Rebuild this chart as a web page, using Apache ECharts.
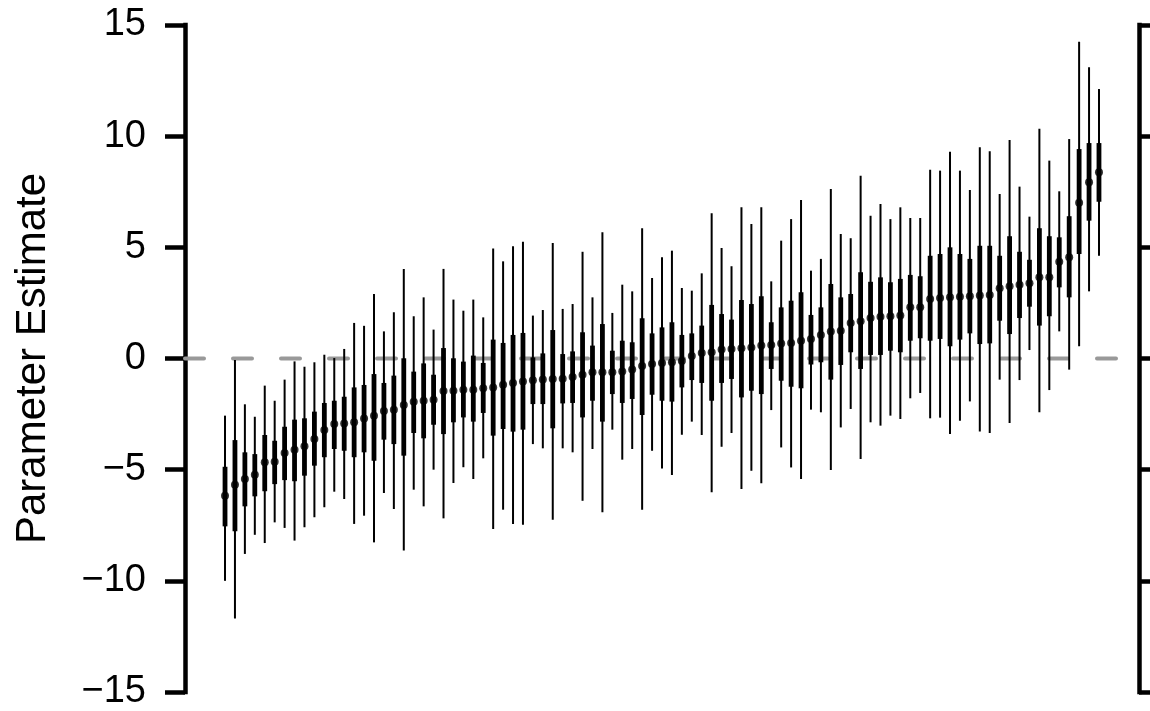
<!DOCTYPE html>
<html><head><meta charset="utf-8">
<script src="https://cdn.jsdelivr.net/npm/echarts@6/dist/echarts.min.js"></script>
<style>html,body{margin:0;padding:0;background:#fff}#c{width:1150px;height:711px}</style>
</head><body><div id="c"></div>
<script>
// Point estimates, sorted ascending
const estimate = [-6.17,-5.68,-5.42,-5.23,-4.67,-4.64,-4.25,-4.1,-3.95,-3.62,
-3.22,-2.95,-2.92,-2.87,-2.7,-2.57,-2.36,-2.3,-2.09,-1.94,
-1.9,-1.85,-1.46,-1.45,-1.4,-1.4,-1.34,-1.3,-1.18,-1.1,
-1.04,-0.98,-0.94,-0.92,-0.91,-0.83,-0.73,-0.62,-0.62,-0.62,
-0.59,-0.5,-0.34,-0.25,-0.2,-0.17,-0.11,0.11,0.25,0.28,
0.41,0.43,0.46,0.5,0.58,0.61,0.67,0.7,0.8,0.88,
1.06,1.21,1.25,1.6,1.67,1.82,1.88,1.9,1.93,2.3,
2.3,2.68,2.72,2.75,2.78,2.8,2.83,2.86,3.16,3.25,
3.32,3.38,3.65,3.65,4.35,4.55,7.0,7.93,8.38];
// Inner (thick) interval
const innerLo = [-7.55,-7.77,-6.65,-6.2,-5.97,-5.65,-5.47,-5.52,-5.27,-4.82,
-4.44,-4.07,-4.15,-4.44,-4.22,-4.6,-3.65,-3.85,-4.37,-3.35,
-3.59,-2.98,-3.4,-2.87,-2.65,-2.84,-2.45,-3.47,-3.17,-3.29,
-3.2,-2.05,-2.05,-3.14,-2.02,-2.0,-2.65,-1.9,-2.84,-1.6,
-2.0,-1.82,-2.54,-1.63,-1.9,-1.94,-1.3,-0.97,-1.1,-1.9,
-1.1,-0.92,-1.75,-1.45,-1.6,-0.47,-1.0,-1.27,-1.34,-0.27,
-0.17,-0.95,-0.29,0.28,-0.47,0.16,0.16,0.35,0.28,0.8,
0.91,0.8,0.88,0.55,0.85,1.13,0.65,0.68,1.7,1.1,
1.82,2.33,1.48,1.9,3.2,2.75,4.7,6.2,7.05];
const innerHi = [-4.87,-3.67,-4.22,-4.3,-3.44,-3.7,-3.07,-2.75,-2.69,-2.39,
-2.0,-1.9,-1.72,-1.3,-1.19,-0.7,-1.1,-0.77,0.01,-0.59,
-0.22,-0.73,0.47,0.01,-0.14,0.13,-0.2,0.85,0.7,1.06,
1.15,0.05,0.23,1.28,0.2,0.32,1.18,0.58,1.55,0.35,
0.8,0.73,1.81,1.13,1.4,1.63,1.06,1.13,1.48,2.41,
2.0,1.75,2.63,2.45,2.8,1.63,2.3,2.6,2.98,1.96,
2.3,3.35,2.75,2.9,3.88,3.45,3.65,3.43,3.58,3.76,
3.7,4.62,4.7,5.0,4.7,4.48,5.07,5.07,4.62,5.5,
4.8,4.44,5.86,5.5,5.45,6.4,9.42,9.69,9.69];
// Outer (thin) interval
const outerLo = [-10.0,-11.69,-8.79,-7.93,-8.3,-7.37,-7.62,-8.19,-7.59,-7.14,
-6.69,-5.99,-6.32,-7.44,-7.07,-8.27,-6.05,-6.77,-8.64,-5.9,
-6.65,-5.0,-7.19,-5.6,-4.89,-5.42,-4.49,-7.67,-6.8,-7.44,
-7.48,-3.85,-4.04,-7.25,-4.04,-4.22,-6.4,-4.07,-6.92,-3.2,
-4.55,-4.07,-6.8,-4.15,-4.95,-5.24,-3.43,-2.84,-3.44,-6.02,
-3.97,-3.35,-5.87,-5.05,-5.61,-2.32,-4.0,-4.9,-5.42,-2.3,
-2.42,-5.02,-3.1,-2.27,-4.52,-2.87,-3.02,-2.57,-2.72,-1.79,
-1.55,-2.69,-2.66,-3.4,-2.8,-1.93,-3.28,-3.35,-0.95,-2.9,
-0.97,0.38,-2.42,-1.42,1.22,-0.5,0.55,3.02,4.62];
const outerHi = [-2.57,-0.07,-2.06,-2.62,-1.22,-1.9,-0.95,-0.13,-0.37,-0.17,
0.17,0.02,0.43,1.6,1.47,2.9,1.22,2.08,4.03,1.9,
2.75,1.3,4.03,2.65,2.15,2.65,1.85,4.95,4.37,5.05,
5.25,1.93,2.18,5.2,2.23,2.45,4.8,2.75,5.68,2.05,
3.32,3.02,5.86,3.62,4.55,4.85,3.17,3.05,3.83,6.53,
4.97,4.15,6.8,6.05,6.8,3.47,5.3,6.27,7.13,3.95,
4.48,7.62,5.6,5.41,8.22,6.42,6.95,6.27,6.8,6.32,
6.32,8.49,8.45,9.3,8.45,7.58,9.5,9.32,7.4,9.83,
7.73,6.38,10.33,8.9,7.52,9.87,14.25,13.1,12.12];
const yTicks = [-15, -10, -5, 0, 5, 10, 15];
const refLine = 0;

const FONT = '"Liberation Sans", Arial, Helvetica, sans-serif';
const idx = estimate.map((_, i) => i + 1);
const xMin = -3.03, xMax = idx.length + 4.03;
const barData = idx.map((x, i) => [x, outerLo[i], outerHi[i], innerLo[i], innerHi[i]]);
const ptData = idx.map((x, i) => [x, estimate[i]]);

const axisCommon = {
  type: 'value', min: yTicks[0], max: yTicks[yTicks.length - 1], interval: 5,
  axisLine: { show: true, onZero: false, lineStyle: { color: '#000', width: 4.5, cap: 'square' } },
  axisTick: { show: true, length: 20, lineStyle: { color: '#000', width: 4.5 } },
  splitLine: { show: false }
};

const chart = echarts.init(document.getElementById('c'), null, { renderer: 'canvas' });
chart.setOption({
  animation: false,
  backgroundColor: '#fff',
  grid: { left: 185, right: 11, top: 25, bottom: 16.5, containLabel: false },
  xAxis: { type: 'value', min: xMin, max: xMax, show: false },
  yAxis: [
    Object.assign({}, axisCommon, {
      position: 'left',
      axisLabel: { margin: 39, fontSize: 38, fontFamily: FONT, color: '#000',
        formatter: v => String(v).replace('-', '\u2212') },
      name: 'Parameter Estimate', nameLocation: 'middle', nameRotate: 90, nameGap: 131,
      nameTextStyle: { fontSize: 42, fontFamily: FONT, color: '#000' }
    }),
    Object.assign({}, axisCommon, { position: 'right', axisLabel: { show: false } })
  ],
  series: [
    { type: 'line', data: [[xMin, refLine], [xMax, refLine]], symbol: 'none', silent: true, z: 1,
      lineStyle: { color: '#999', width: 4, type: [19, 29], cap: 'round' } },
    { type: 'custom', z: 2, data: barData, encode: { x: 0, y: [1, 2, 3, 4] },
      renderItem: (params, api) => {
        const x = api.value(0);
        const a = api.coord([x, api.value(1)]), b = api.coord([x, api.value(2)]);
        const c = api.coord([x, api.value(3)]), d = api.coord([x, api.value(4)]);
        return { type: 'group', children: [
          { type: 'line', shape: { x1: a[0], y1: a[1], x2: b[0], y2: b[1] }, style: { stroke: '#000', lineWidth: 2 } },
          { type: 'line', shape: { x1: c[0], y1: c[1], x2: d[0], y2: d[1] }, style: { stroke: '#000', lineWidth: 4.8 } }
        ]};
      } },
    { type: 'scatter', z: 3, data: ptData, symbolSize: 8, itemStyle: { color: '#000' } }
  ]
});
</script></body></html>
